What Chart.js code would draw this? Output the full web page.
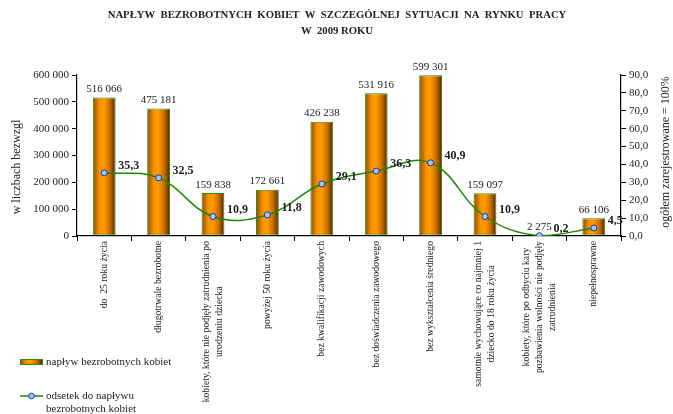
<!DOCTYPE html>
<html>
<head>
<meta charset="utf-8">
<script src="https://cdn.jsdelivr.net/npm/chart.js@4/dist/chart.umd.min.js"></script>
<style>
  html, body { margin: 0; padding: 0; background: #fff; }
  #wrap { width: 673px; height: 414px; }
</style>
</head>
<body>
<div id="wrap"><canvas id="chart" width="673" height="414"></canvas></div>
<script>
const categories = [
   'do  25 roku życia',
   'długotrwale bezrobotne',
   ['kobiety, które nie podjęły zatrudnienia po', 'urodzeniu dziecka'],
   'powyżej 50 roku życia',
   'bez kwalifikacji zawodowych',
   'bez doświadczenia zawodowego',
   'bez wykształcenia średniego',
   ['samotnie wychowujące co najmniej 1', 'dziecko do 18 roku życia'],
   ['kobiety, które po odbyciu kary', 'pozbawienia wolności nie podjęły', 'zatrudnienia'],
   'niepełnosprawne'
]
const inflow = [516066, 475181, 159838, 172661, 426238, 531916, 599301, 159097, 2275, 66106]
const share = [35.3, 32.5, 10.9, 11.8, 29.1, 36.3, 40.9, 10.9, 0.2, 4.5]

const titleLines = ['NAPŁYW  BEZROBOTNYCH  KOBIET  W  SZCZEGÓLNEJ  SYTUACJI  NA  RYNKU  PRACY', 'W  2009 ROKU']
const leftTitle = 'w liczbach bezwzgl'
const rightTitle = 'ogółem zarejestrowane = 100%'
const barLabel = 'napływ bezrobotnych kobiet'
const lineLabel = ['odsetek do napływu', 'bezrobotnych kobiet']

const serif = '"Liberation Serif", "DejaVu Serif", serif'
const ink = '#222'

const spaced = v => Math.round(v).toString().replace(/\B(?=(\d{3})+(?!\d))/g, ' ')
const comma = v => v.toFixed(1).replace('.', ',')

const barFill = (chart, x, w) => {
   const g = chart.ctx.createLinearGradient(x - w / 2, 0, x + w / 2, 0)
   g.addColorStop(0, '#8a4800')
   g.addColorStop(0.3, '#f89400')
   g.addColorStop(0.5, '#ff9a00')
   g.addColorStop(0.75, '#c46c00')
   g.addColorStop(1, '#4a2600')
   return g
}

// titles, legend, value labels and rotated category labels
const decor = {
   id: 'decor',
   afterDraw(chart) {
      const { ctx, chartArea } = chart
      const xs = chart.scales.x
      ctx.save()
      ctx.fillStyle = ink

      // main title
      ctx.font = 'bold 10.7px ' + serif
      ctx.textAlign = 'center'
      ctx.textBaseline = 'middle'
      ctx.fillText(titleLines[0], 337, 15)
      ctx.fillText(titleLines[1], 337, 31)

      // bar values
      const barMeta = chart.getDatasetMeta(0)
      ctx.font = '11px ' + serif
      ctx.textBaseline = 'bottom'
      barMeta.data.forEach((bar, i) => {
         ctx.fillText(spaced(inflow[i]), bar.x, bar.y - 3)
      })

      // line values
      const lineMeta = chart.getDatasetMeta(1)
      ctx.font = 'bold 12px ' + serif
      ctx.textAlign = 'left'
      ctx.textBaseline = 'middle'
      lineMeta.data.forEach((pt, i) => {
         ctx.fillText(comma(share[i]), pt.x + 14, pt.y - 7)
      })

      // category labels, rotated, centred lines
      ctx.font = '9.7px ' + serif
      const top = chartArea.bottom + 5
      categories.forEach((cat, i) => {
         const lines = Array.isArray(cat) ? cat : [cat]
         const w = Math.max(...lines.map(l => ctx.measureText(l).width))
         const x = xs.getPixelForValue(i)
         ctx.save()
         ctx.translate(x, top)
         ctx.rotate(-Math.PI / 2)
         ctx.textAlign = 'center'
         ctx.textBaseline = 'middle'
         lines.forEach((l, j) => {
            ctx.fillText(l, -w / 2, (j - (lines.length - 1) / 2) * 13)
         })
         ctx.restore()
      })

      // axis titles
      ctx.font = '12px ' + serif
      ctx.textAlign = 'center'
      ctx.textBaseline = 'middle'
      ctx.save()
      ctx.translate(17, 167)
      ctx.rotate(-Math.PI / 2)
      ctx.fillText(leftTitle, 0, 0)
      ctx.restore()
      ctx.save()
      ctx.translate(666, 152)
      ctx.rotate(-Math.PI / 2)
      ctx.fillText(rightTitle, 0, 0)
      ctx.restore()

      // legend
      ctx.fillStyle = barFill(chart, 31, 23)
      ctx.fillRect(20, 359, 23, 6)
      ctx.strokeStyle = '#2f8a10'
      ctx.lineWidth = 1
      ctx.strokeRect(20.5, 359.5, 22, 5)
      ctx.strokeStyle = '#1a8a00'
      ctx.lineWidth = 1.5
      ctx.beginPath()
      ctx.moveTo(20, 396)
      ctx.lineTo(43, 396)
      ctx.stroke()
      ctx.beginPath()
      ctx.arc(31.5, 396, 2.8, 0, Math.PI * 2)
      ctx.fillStyle = '#9cc8ff'
      ctx.fill()
      ctx.strokeStyle = '#1f2fb0'
      ctx.lineWidth = 1
      ctx.stroke()
      ctx.fillStyle = ink
      ctx.font = '11px ' + serif
      ctx.textAlign = 'left'
      ctx.fillText(barLabel, 46, 362)
      ctx.fillText(lineLabel[0], 46, 396)
      ctx.fillText(lineLabel[1], 46, 409)
      ctx.restore()
   }
}

new Chart(document.getElementById('chart'), {
   type: 'bar',
   data: {
      labels: categories,
      datasets: [
         {
            type: 'bar',
            label: barLabel,
            data: inflow,
            yAxisID: 'y',
            order: 1,
            backgroundColor: c => {
               const chart = c.chart
               if (!chart.chartArea) return '#ff9a00'
               const x = chart.scales.x.getPixelForValue(c.dataIndex)
               return barFill(chart, x, 23)
            },
            borderColor: '#2f8a10',
            borderWidth: 1,
            borderSkipped: false,
            categoryPercentage: 1,
            barPercentage: 0.42
         },
         {
            type: 'line',
            label: lineLabel.join(' '),
            data: share,
            yAxisID: 'y1',
            order: 0,
            borderColor: '#1a8a00',
            borderWidth: 1.5,
            tension: 0.4,
            pointRadius: 3,
            pointBackgroundColor: '#9cc8ff',
            pointBorderColor: '#1f2fb0',
            pointBorderWidth: 1
         }
      ]
   },
   options: {
      responsive: false,
      animation: false,
      layout: { padding: { top: 75, left: 0, right: 0, bottom: 0 } },
      plugins: {
         legend: { display: false },
         title: { display: false },
         tooltip: { enabled: false }
      },
      scales: {
         x: {
            afterFit: s => { s.height = 178 },
            border: { display: true, color: '#000', width: 1.2 },
            grid: { offset: true, drawOnChartArea: false, drawTicks: true, tickLength: 5, color: '#000' },
            ticks: { display: false }
         },
         y: {
            position: 'left',
            min: 0,
            max: 600000,
            afterFit: s => { s.width = 77 },
            border: { display: true, color: '#000', width: 1.2 },
            grid: { drawOnChartArea: false, drawTicks: true, tickLength: 5, color: '#000' },
            ticks: {
               stepSize: 100000,
               padding: 3,
               color: ink,
               font: { family: serif, size: 11 },
               callback: v => spaced(v)
            }
         },
         y1: {
            position: 'right',
            min: 0,
            max: 90,
            afterFit: s => { s.width = 52 },
            border: { display: true, color: '#000', width: 1.2 },
            grid: { drawOnChartArea: false, drawTicks: true, tickLength: 5, color: '#000' },
            ticks: {
               stepSize: 10,
               padding: 3,
               color: ink,
               font: { family: serif, size: 11 },
               callback: v => comma(v)
            }
         }
      }
   },
   plugins: [decor]
})
</script>
</body>
</html>
